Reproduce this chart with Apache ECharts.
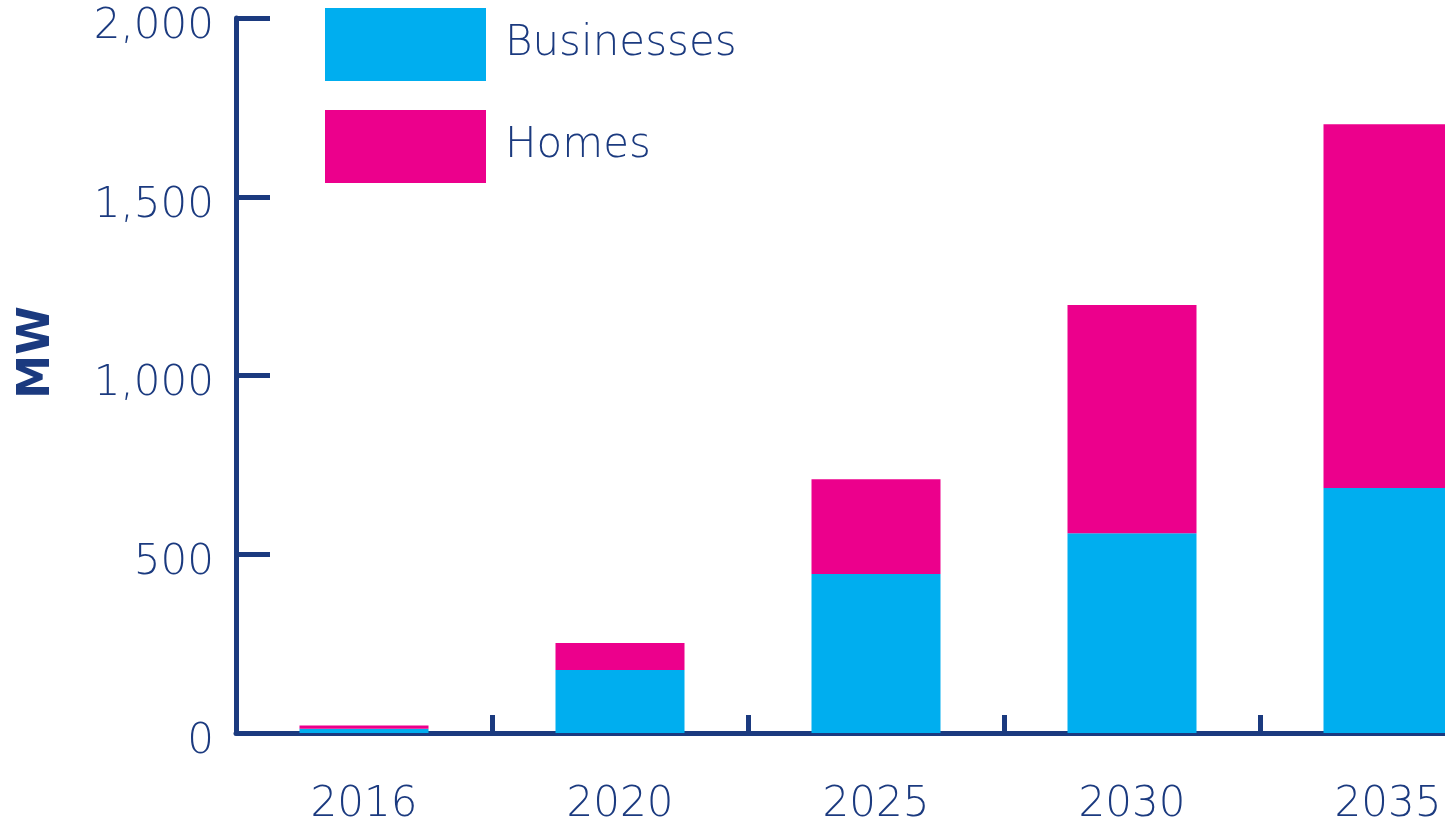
<!DOCTYPE html>
<html>
<head>
<meta charset="utf-8">
<script src="https://cdn.jsdelivr.net/npm/echarts@6/dist/echarts.min.js"></script>
<style>
  html, body { margin: 0; padding: 0; background: #fff; }
  #chart { width: 1445px; height: 822px; }
</style>
</head>
<body>
<div id="chart"></div>
<script>
// data
var years = ['2016', '2020', '2025', '2030', '2035'];
var businesses = [12, 176, 445, 559, 685];
var homes = [9, 76, 265, 638, 1018];

var navy = '#1b3a7f';
var font = 'DejaVu Sans';

var myChart = echarts.init(document.getElementById('chart'));
var option = {
    animation: false,
    grid: {
        left: 236,
        top: 18,
        bottom: 89,
        width: 1280,
        outerBoundsMode: 'none',
        containLabel: false
    },
    legend: {
        orient: 'vertical',
        left: 325,
        top: 8,
        padding: 0,
        itemWidth: 161,
        itemHeight: 73,
        itemGap: 29,
        icon: 'rect',
        textStyle: {
            color: navy,
            fontFamily: font,
            fontWeight: 200,
            fontSize: 42,
            padding: [0, 0, 0, 14]
        },
        data: ['Businesses', 'Homes']
    },
    xAxis: {
        type: 'category',
        data: years,
        axisLine: { lineStyle: { color: navy, width: 5 } },
        axisTick: { show: true, inside: true, length: 18, lineStyle: { color: navy, width: 5 } },
        axisLabel: { color: navy, fontFamily: font, fontWeight: 200, fontSize: 42, margin: 51 }
    },
    yAxis: {
        type: 'value',
        min: 0,
        max: 2000,
        interval: 500,
        name: 'MW',
        nameLocation: 'middle',
        nameGap: 176,
        nameTextStyle: {
            color: navy, fontFamily: font, fontSize: 44, fontWeight: 'bold',
            padding: [0, 0, 0, 46]
        },
        splitLine: { show: false },
        axisLine: { show: true, lineStyle: { color: navy, width: 5 } },
        axisTick: { show: true, inside: true, length: 34, lineStyle: { color: navy, width: 5 } },
        axisLabel: {
            color: navy, fontFamily: font, fontWeight: 200, fontSize: 42, margin: 22,
            verticalAlign: 'top',
            lineHeight: 18,
            formatter: function (v) { return v.toLocaleString('en-US'); }
        }
    },
    series: [
        {
            name: 'Businesses',
            type: 'bar',
            stack: 'total',
            barWidth: 129,
            itemStyle: { color: '#00aeef' },
            data: businesses
        },
        {
            name: 'Homes',
            type: 'bar',
            stack: 'total',
            barWidth: 129,
            itemStyle: { color: '#ec008c' },
            data: homes
        }
    ]
};
myChart.setOption(option);
</script>
</body>
</html>
